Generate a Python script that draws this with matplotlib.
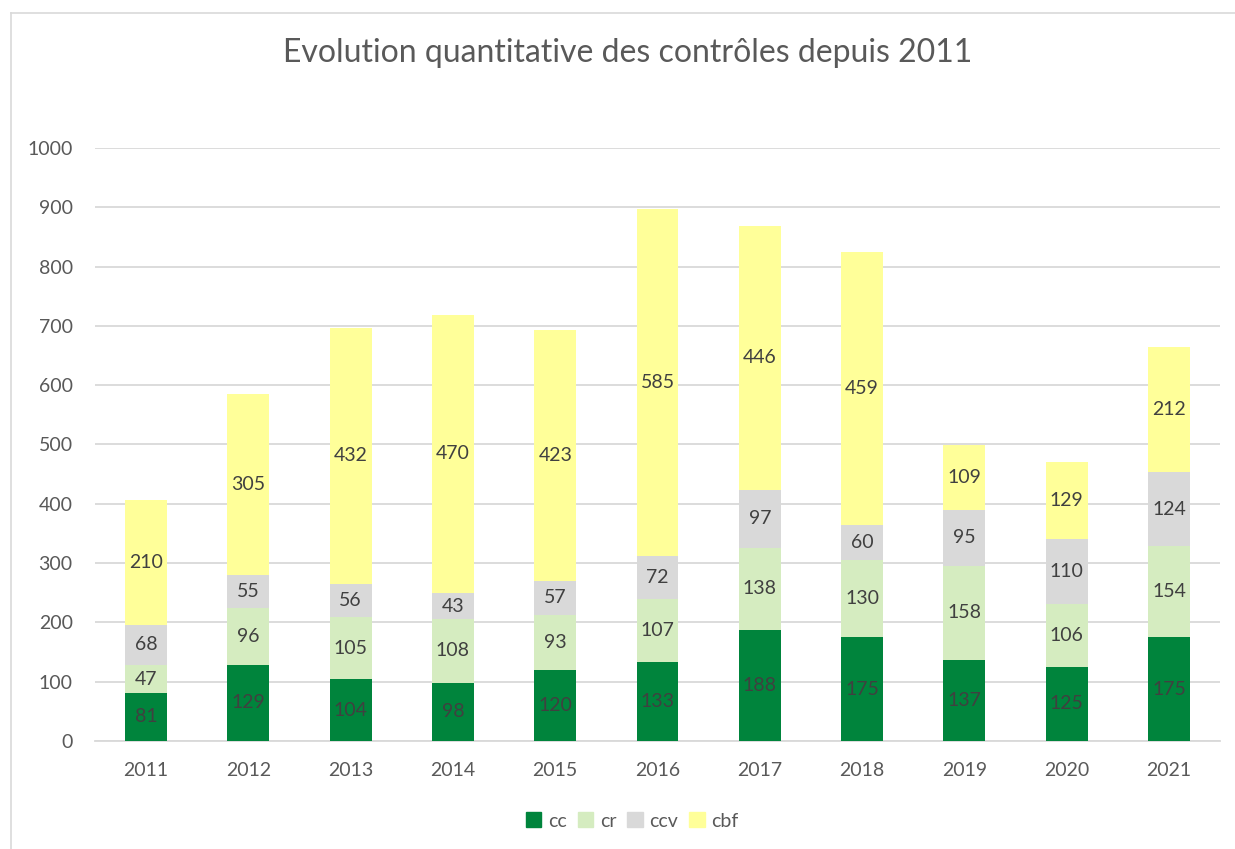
import matplotlib
matplotlib.use("Agg")
import matplotlib.pyplot as plt
import matplotlib.patches as mpatches
from matplotlib.lines import Line2D
import numpy as np

plt.rcParams['font.family'] = ['Lato', 'DejaVu Sans']

years = ['2011', '2012', '2013', '2014', '2015', '2016', '2017', '2018', '2019', '2020', '2021']
cc = [81, 129, 104, 98, 120, 133, 188, 175, 137, 125, 175]
cr = [47, 96, 105, 108, 93, 107, 138, 130, 158, 106, 154]
ccv = [68, 55, 56, 43, 57, 72, 97, 60, 95, 110, 124]
cbf = [210, 305, 432, 470, 423, 585, 446, 459, 109, 129, 212]

series = [('cc', cc, '#00843c'),
          ('cr', cr, '#d5ecc0'),
          ('ccv', ccv, '#d9d9d9'),
          ('cbf', cbf, '#ffff99')]

text_col = '#404040'
grid_col = '#d9d9d9'

fig = plt.figure(figsize=(12.35, 8.49), dpi=100)
ax = fig.add_axes([0.0769, 0.1272, 0.9110, 0.6985])

x = np.arange(len(years))
bottom = np.zeros(len(years))
for name, vals, col in series:
    vals = np.array(vals)
    ax.bar(x, vals, width=0.41, bottom=bottom, color=col, zorder=3)
    for xi, b, v in zip(x, bottom, vals):
        ax.text(xi, b + v / 2, str(v), ha='center', va='center',
                fontsize=14, color=text_col, zorder=4)
    bottom += vals

ax.set_xlim(-0.5, len(years) - 0.5)
ax.set_ylim(0, 1000)
ax.set_yticks(range(0, 1001, 100))
ax.set_xticks(x)
ax.set_xticklabels(years)
ax.tick_params(axis='both', length=0, labelsize=14, colors='#595959')
ax.tick_params(axis='x', pad=15)
ax.tick_params(axis='y', pad=16)
ax.yaxis.grid(True, color=grid_col, linewidth=1.3, zorder=0)
for s in ['top', 'right', 'left']:
    ax.spines[s].set_visible(False)
ax.spines['bottom'].set_color(grid_col)
ax.spines['bottom'].set_linewidth(1.3)

fig.text(0.5085, 0.937, 'Evolution quantitative des contrôles depuis 2011',
         ha='center', va='center', fontsize=23, color='#595959')

handles = [mpatches.Patch(color=col, label=name) for name, _, col in series]
fig.legend(handles=handles, loc='center', bbox_to_anchor=(0.512, 0.033),
           ncol=4, frameon=False, fontsize=14, labelcolor='#595959',
           handlelength=0.8, handleheight=0.8, handletextpad=0.35, columnspacing=0.55)

# chart border (left and top edges visible)
fig.add_artist(Line2D([11 / 1235, 11 / 1235], [0, 1 - 13 / 849], color='#d9d9d9', lw=1.2))
fig.add_artist(Line2D([11 / 1235, 1], [1 - 13 / 849, 1 - 13 / 849], color='#d9d9d9', lw=1.2))

fig.savefig('out.png', dpi=100)
